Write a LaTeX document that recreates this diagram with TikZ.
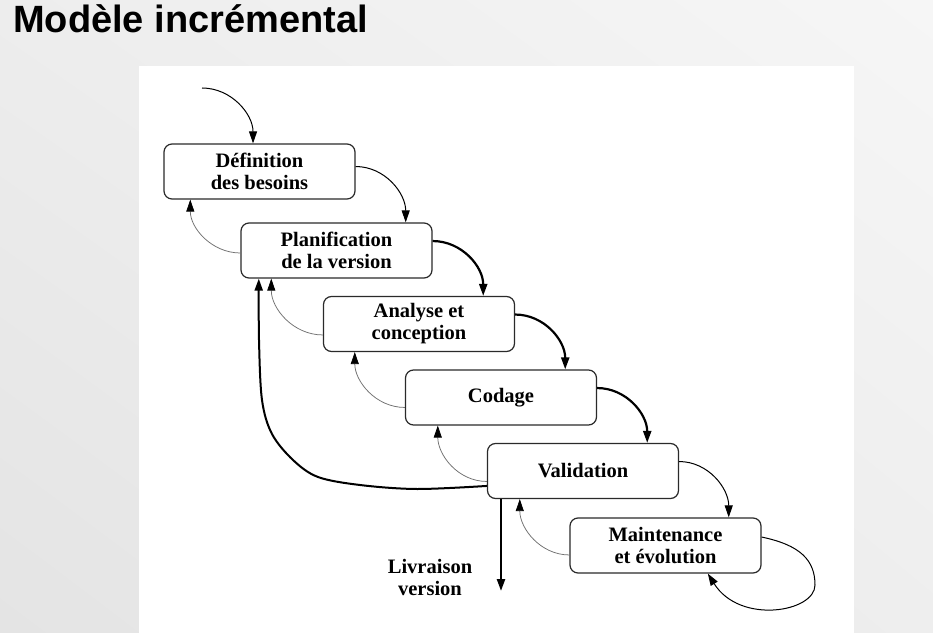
\documentclass[tikz,border=0pt]{standalone}
\usepackage{fontspec}
\setmainfont{Liberation Serif}
\newfontfamily\titlefont{Liberation Sans}
\usetikzlibrary{arrows.meta,shadings}
\definecolor{bgll}{HTML}{E4E4E4}
\definecolor{bgul}{HTML}{EDEDED}
\definecolor{bglr}{HTML}{EEEEEE}
\definecolor{bgur}{HTML}{F6F6F6}
\definecolor{backgray}{HTML}{707070}
\definecolor{boxline}{HTML}{2A2A2A}
\begin{document}
\begin{tikzpicture}[x=1bp,y=1bp,
  stage/.style={draw=boxline, fill=white, line width=1.2bp, rounded corners=8bp,
    minimum width=191bp, minimum height=55bp, align=center, inner sep=0pt,
    font=\bfseries\fontsize{20.5bp}{22bp}\selectfont},
  tiphead/.style={-{Triangle[length=12bp,width=8bp,color=black]}},
  fwdthick/.style={tiphead, line width=2.2bp, draw=black},
  fwdthin/.style={tiphead, line width=1bp, draw=black},
  backarrow/.style={tiphead, line width=0.75bp, draw=backgray},
  bigarrow/.style={tiphead, line width=2bp, draw=black},
  label/.style={align=center, inner sep=0pt, font=\bfseries\fontsize{20.5bp}{22bp}\selectfont}
]
\useasboundingbox (0,0) rectangle (933,-633);
\shade[lower left=bgll, upper left=bgul, lower right=bglr, upper right=bgur] (0,-633) rectangle (933,0);
\fill[white] (139,-66) rectangle (854,-633);

\node[anchor=base west, inner sep=0pt, font=\titlefont\bfseries\fontsize{38bp}{42bp}\selectfont] (title) at (13,-33) {Modèle incrémental};

\node[stage] (b1) at (259.5,-171.5) {Définition\\des besoins};
\node[stage] (b2) at (336.5,-250.5) {Planification\\de la version};
\node[stage] (b3) at (419,-324) {Analyse et\\conception};
\node[stage] (b4) at (501,-397.5) {Codage};
\node[stage] (b5) at (583,-471) {Validation};
\node[stage] (b6) at (665.5,-545.5) {Maintenance\\et évolution};

% entry
\coordinate (entry) at (202,-88);
\draw[fwdthin] (entry) to[out=0,in=90] ([xshift=-6.5]b1.north);

% forward arrows
\draw[fwdthin]  ([yshift=5]b1.east)   to[out=0,in=90] ([xshift=-27]b2.north east);
\draw[fwdthick] ([yshift=9.5]b2.east) to[out=0,in=90] ([xshift=-32]b3.north east);
\draw[fwdthick] ([yshift=9.5]b3.east) to[out=0,in=90] ([xshift=-32]b4.north east);
\draw[fwdthick] ([yshift=9.5]b4.east) to[out=0,in=90] ([xshift=-32]b5.north east);
\draw[fwdthin]  ([yshift=9.5]b5.east) to[out=0,in=90] ([xshift=-33]b6.north east);

% backward arrows
\draw[backarrow] ([yshift=-2.5]b2.west) to[out=180,in=-90] ([xshift=27]b1.south west);
\draw[backarrow] ([yshift=-11]b3.west)  to[out=180,in=-90] ([xshift=31]b2.south west);
\draw[backarrow] ([yshift=-10]b4.west)  to[out=180,in=-90] ([xshift=32]b3.south west);
\draw[backarrow] ([yshift=-10.5]b5.west) to[out=180,in=-90] ([xshift=33]b4.south west);
\draw[backarrow] ([yshift=-9.5]b6.west) to[out=180,in=-90] ([xshift=33]b5.south west);

% big return arrow
\draw[bigarrow] plot[smooth, tension=0.55] coordinates {([yshift=-15]b5.west) (417,-489) (360,-485) (318,-477) (293,-460) (272,-434) (262,-400) (259,-340) ([xshift=-78]b2.south)};

% delivery
\coordinate (livend) at (501,-591);
\draw[tiphead, line width=2.4bp] (livend |- b5.south) -- (livend);
\node[label] (liv) at (430,-577) {Livraison\\version};

% self loop
\coordinate (loopR) at (815,-585);
\draw[fwdthin] ([yshift=8.5]b6.east) .. controls (800,-545) and (815,-560) .. (loopR)
  .. controls (815,-612) and (740,-625) .. ([xshift=42.5]b6.south);
\end{tikzpicture}
\end{document}
